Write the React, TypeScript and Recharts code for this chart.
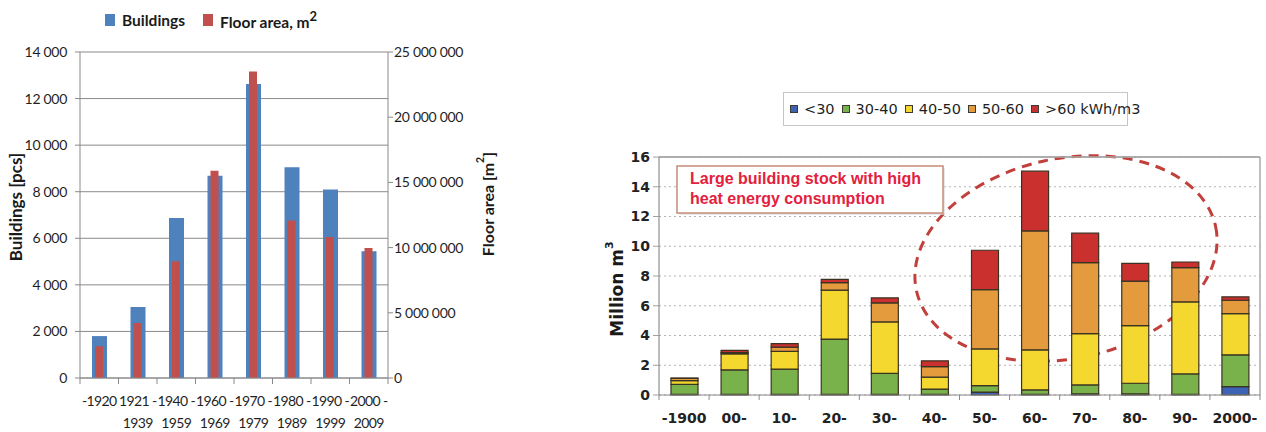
import React from "react";
import {
  BarChart,
  Bar,
  XAxis,
  YAxis,
  CartesianGrid,
  ReferenceLine,
  Customized,
} from "recharts";

// Building stock by construction period
const periods = [
  "-1920",
  "1921 - 1939",
  "1940 - 1959",
  "1960 - 1969",
  "1970 - 1979",
  "1980 - 1989",
  "1990 - 1999",
  "2000 - 2009",
];
const buildings = [1800, 3050, 6870, 8690, 12630, 9050, 8090, 5440];
const floorArea = [2430000, 4220000, 8950000, 15900000, 23500000, 12070000, 10810000, 9970000];
const buildingTicks = [0, 2000, 4000, 6000, 8000, 10000, 12000, 14000];
const floorTicks = [0, 5000000, 10000000, 15000000, 20000000, 25000000];

// Heated volume by decade and specific heat consumption class (million m3)
const decades = ["-1900", "00-", "10-", "20-", "30-", "40-", "50-", "60-", "70-", "80-", "90-", "2000-"];
const below30 = [0.05, 0.05, 0.05, 0.05, 0.05, 0.05, 0.2, 0.05, 0.08, 0.08, 0.05, 0.56];
const from30to40 = [0.67, 1.64, 1.69, 3.71, 1.41, 0.35, 0.43, 0.29, 0.6, 0.71, 1.37, 2.14];
const from40to50 = [0.25, 1.08, 1.19, 3.29, 3.45, 0.8, 2.47, 2.7, 3.44, 3.87, 4.84, 2.77];
const from50to60 = [0.15, 0.08, 0.29, 0.5, 1.29, 0.71, 3.99, 7.99, 4.78, 3.0, 2.3, 0.9];
const above60 = [0.02, 0.15, 0.23, 0.22, 0.33, 0.39, 2.64, 4.02, 1.98, 1.19, 0.38, 0.23];
const volumeTicks = [0, 2, 4, 6, 8, 10, 12, 14, 16];

const classes = [
  { key: "below30", label: "<30", color: "#3d63b4" },
  { key: "from30to40", label: "30-40", color: "#79b24a" },
  { key: "from40to50", label: "40-50", color: "#f5d82f" },
  { key: "from50to60", label: "50-60", color: "#e39b3e" },
  { key: "above60", label: ">60 kWh/m3", color: "#c9302e" },
];

const periodData = periods.map((period, i) => ({
  period,
  buildings: buildings[i],
  floorArea: floorArea[i],
}));

const decadeData = decades.map((decade, i) => ({
  decade,
  below30: below30[i],
  from30to40: from30to40[i],
  from40to50: from40to50[i],
  from50to60: from50to60[i],
  above60: above60[i],
}));

const BLUE = "#4f81bd";
const RED = "#c0504d";
const AXIS_GREY = "#8a8a8a";
const LEFT_FONT = "Lato, 'Open Sans', sans-serif";
const RIGHT_FONT = "'DejaVu Sans', Verdana, sans-serif";

// left chart plot box
const L_TOP = 52;
const L_BOTTOM = 378;
const L_BAND = (388 - 80) / periods.length;

// right chart plot box (chart coordinates)
const R_LEFT = 59;
const R_RIGHT = 660;
const R_TOP = 157;
const R_BOTTOM = 395;
const R_BAND = (R_RIGHT - R_LEFT) / decades.length;

const spaced = (n: number) => String(n).replace(/\B(?=(\d{3})+(?!\d))/g, " ");

function PeriodTick({ x, payload }: any) {
  const [from, to] = String(payload.value).split(" - ");
  const edge = x - L_BAND / 2;
  const isLast = payload.value === periods[periods.length - 1];
  const textProps = {
    textAnchor: "middle" as const,
    fontSize: 14,
    letterSpacing: -0.6,
    fill: "#1f1f1f",
    fontFamily: LEFT_FONT,
  };
  return (
    <g>
      <line x1={edge} x2={edge} y1={L_BOTTOM} y2={L_BOTTOM + 6} stroke={AXIS_GREY} />
      {isLast && (
        <line x1={x + L_BAND / 2} x2={x + L_BAND / 2} y1={L_BOTTOM} y2={L_BOTTOM + 6} stroke={AXIS_GREY} />
      )}
      <text x={x} y={L_BOTTOM + 28} {...textProps}>
        {to ? `${from} -` : from}
      </text>
      {to && (
        <text x={x} y={L_BOTTOM + 50} {...textProps}>
          {to}
        </text>
      )}
    </g>
  );
}

function DecadeTick({ x, payload }: any) {
  const edge = x - R_BAND / 2;
  const isLast = payload.value === decades[decades.length - 1];
  return (
    <g>
      <line x1={edge} x2={edge} y1={R_BOTTOM} y2={R_BOTTOM + 5} stroke={AXIS_GREY} />
      {isLast && (
        <line x1={x + R_BAND / 2} x2={x + R_BAND / 2} y1={R_BOTTOM} y2={R_BOTTOM + 5} stroke={AXIS_GREY} />
      )}
      <text
        x={x}
        y={R_BOTTOM + 28}
        textAnchor="middle"
        fontSize={14}
        fontWeight="bold"
        fill="#222"
        fontFamily={RIGHT_FONT}
      >
        {payload.value}
      </text>
    </g>
  );
}

// rotated axis title with a superscript tail
function VerticalTitle({ cx, cy, text, sup, tail, size, family }: any) {
  return (
    <text
      transform={`translate(${cx},${cy}) rotate(-90)`}
      textAnchor="middle"
      dominantBaseline="central"
      fontSize={size}
      fontWeight="bold"
      fill="#1a1a1a"
      fontFamily={family}
    >
      {text}
      <tspan fontSize={size * 0.65} dy={-size * 0.45}>
        {sup}
      </tspan>
      {tail && <tspan dy={size * 0.45}>{tail}</tspan>}
    </text>
  );
}

// plot frame, dashed ellipse and the note box over the stacked bars
function StockNote() {
  return (
    <g>
      <line x1={R_LEFT} x2={R_RIGHT} y1={R_TOP} y2={R_TOP} stroke="#a8a8a8" strokeWidth={1.5} />
      <line x1={R_RIGHT} x2={R_RIGHT} y1={R_TOP} y2={R_BOTTOM} stroke="#a8a8a8" strokeWidth={1.5} />
      <ellipse
        cx={466}
        cy={258.5}
        rx={153}
        ry={100}
        transform="rotate(-12 466 258.5)"
        fill="none"
        stroke="#c2403c"
        strokeWidth={3}
        strokeDasharray="10 7"
      />
      <rect x={79} y={168} width={266} height={47} fill="#d9d9d9" opacity={0.6} />
      <rect x={77} y={166} width={266} height={47} fill="#fff" stroke="#c58c78" strokeWidth={1.5} />
      <text x={90} y={184} fontSize={16} fontWeight="bold" fill="#e3213d" fontFamily="'Liberation Sans', Arial, sans-serif">
        Large building stock with high
      </text>
      <text x={90} y={204} fontSize={16} fontWeight="bold" fill="#e3213d" fontFamily="'Liberation Sans', Arial, sans-serif">
        heat energy consumption
      </text>
    </g>
  );
}

function BuildingsChart() {
  return (
    <div style={{ position: "absolute", left: 0, top: 0 }}>
      <div
        style={{
          position: "absolute",
          left: 105,
          top: 8,
          display: "flex",
          alignItems: "center",
          fontFamily: LEFT_FONT,
          fontWeight: "bold",
          fontSize: 15.5,
          color: "#1a1a1a",
          zIndex: 1,
          whiteSpace: "nowrap",
        }}
      >
        <span style={{ width: 10, height: 12, background: BLUE, marginRight: 7 }} />
        <span>Buildings</span>
        <span style={{ width: 10, height: 12, background: RED, marginLeft: 18, marginRight: 7 }} />
        <span>
          Floor area, m<sup style={{ fontSize: 13, verticalAlign: 7 }}>2</sup>
        </span>
      </div>
      <BarChart width={500} height={432} data={periodData} margin={{ top: L_TOP, right: 12, bottom: 0, left: 0 }}>
        <CartesianGrid vertical={false} stroke={AXIS_GREY} xAxisId="b" yAxisId="b" />
        <XAxis
          xAxisId="b"
          dataKey="period"
          height={54}
          interval={0}
          tickLine={false}
          axisLine={{ stroke: AXIS_GREY }}
          tick={<PeriodTick />}
        />
        <XAxis xAxisId="f" dataKey="period" hide />
        <YAxis
          yAxisId="b"
          width={80}
          domain={[0, 14000]}
          ticks={buildingTicks}
          interval={0}
          tickFormatter={spaced}
          tickSize={5}
          tickMargin={8}
          axisLine={{ stroke: AXIS_GREY }}
          tickLine={{ stroke: AXIS_GREY }}
          tick={{ fill: "#1f1f1f", fontSize: 14, letterSpacing: -0.3, fontFamily: LEFT_FONT }}
          label={<VerticalTitle cx={15} cy={207} text="Buildings [pcs]" sup="" size={17} family={LEFT_FONT} />}
        />
        <YAxis
          yAxisId="f"
          orientation="right"
          width={100}
          domain={[0, 25000000]}
          ticks={floorTicks}
          interval={0}
          tickFormatter={spaced}
          tickSize={5}
          tickMargin={1}
          axisLine={{ stroke: AXIS_GREY }}
          tickLine={{ stroke: AXIS_GREY }}
          tick={{ fill: "#1f1f1f", fontSize: 14, letterSpacing: -0.3, fontFamily: LEFT_FONT }}
          label={
            <VerticalTitle cx={487} cy={204} text="Floor area [m" sup="2" tail="]" size={16} family={LEFT_FONT} />
          }
        />
        <Bar xAxisId="b" yAxisId="b" dataKey="buildings" fill={BLUE} barSize={15} isAnimationActive={false} />
        <Bar xAxisId="f" yAxisId="f" dataKey="floorArea" fill={RED} barSize={8} isAnimationActive={false} />
      </BarChart>
    </div>
  );
}

function VolumeChart() {
  return (
    <div style={{ position: "absolute", left: 600, top: 0 }}>
      <div
        style={{
          position: "absolute",
          left: 183,
          top: 92,
          width: 345,
          height: 34,
          boxSizing: "border-box",
          border: "1px solid #c6c6c6",
          background: "#fff",
          display: "flex",
          alignItems: "center",
          paddingLeft: 6,
          fontFamily: RIGHT_FONT,
          fontSize: 14.5,
          color: "#1f1f1f",
          whiteSpace: "nowrap",
          zIndex: 1,
        }}
      >
        {classes.map((c) => (
          <span key={c.key} style={{ display: "flex", alignItems: "center", marginRight: 7 }}>
            <span
              style={{
                width: 6,
                height: 6,
                background: c.color,
                border: "1px solid #3b3a33",
                marginRight: 6,
              }}
            />
            {c.label}
          </span>
        ))}
      </div>
      <BarChart width={666} height={432} data={decadeData} margin={{ top: R_TOP, right: 6, bottom: 0, left: 0 }}>
        <CartesianGrid vertical={false} stroke="#b3b3b3" strokeDasharray="2 3" />
        <XAxis
          dataKey="decade"
          height={37}
          interval={0}
          tickLine={false}
          axisLine={{ stroke: AXIS_GREY }}
          tick={<DecadeTick />}
        />
        <YAxis
          width={R_LEFT}
          domain={[0, 16]}
          ticks={volumeTicks}
          interval={0}
          tickSize={6}
          tickMargin={3}
          axisLine={{ stroke: "#7a7a7a" }}
          tickLine={{ stroke: "#a0a0a0" }}
          tick={{ fill: "#222", fontSize: 14, fontWeight: "bold", fontFamily: RIGHT_FONT }}
          label={<VerticalTitle cx={17} cy={289} text="Million m" sup="3" size={17} family={RIGHT_FONT} />}
        />
        <ReferenceLine y={16} stroke="#a8a8a8" strokeWidth={1.5} />
        {classes.map((c) => (
          <Bar
            key={c.key}
            dataKey={c.key}
            stackId="volume"
            fill={c.color}
            stroke="#3a3322"
            strokeWidth={1.2}
            barSize={27}
            isAnimationActive={false}
          />
        ))}
        <Customized component={StockNote} />
      </BarChart>
    </div>
  );
}

export default function App() {
  return (
    <div style={{ position: "absolute", left: 0, top: 0, width: 1266, height: 432, background: "#fff" }}>
      <BuildingsChart />
      <VolumeChart />
    </div>
  );
}
